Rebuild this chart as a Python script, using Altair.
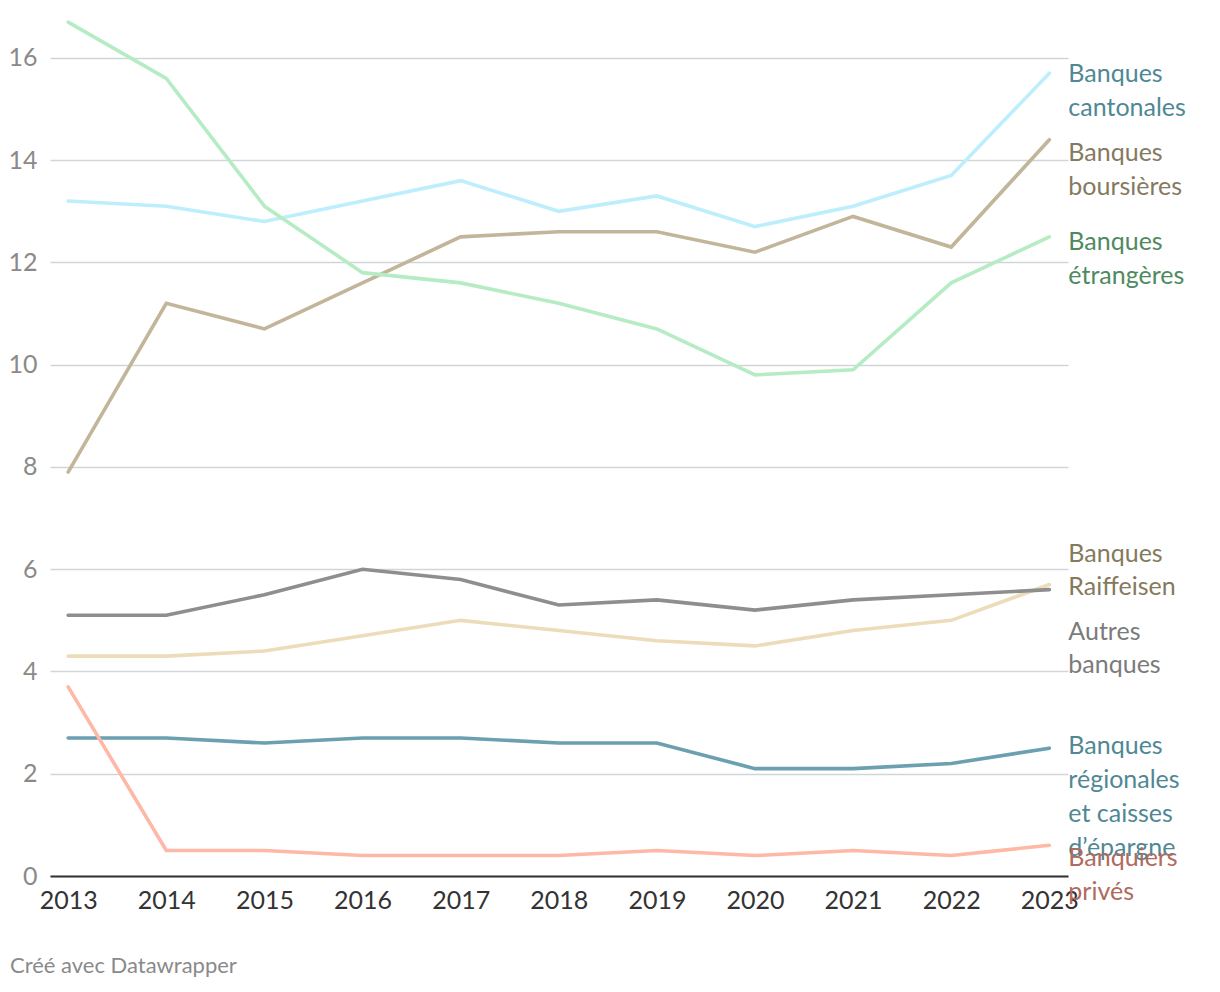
import altair as alt
import pandas as pd

years = list(range(2013, 2024))

series_names = [
    "Banques cantonales",
    "Banques boursières",
    "Banques étrangères",
    "Banques Raiffeisen",
    "Autres banques",
    "Banques régionales et caisses d’épargne",
    "Banquiers privés",
]
cantonales = [13.2, 13.1, 12.8, 13.2, 13.6, 13.0, 13.3, 12.7, 13.1, 13.7, 15.7]
boursieres = [7.9, 11.2, 10.7, 11.6, 12.5, 12.6, 12.6, 12.2, 12.9, 12.3, 14.4]
etrangeres = [16.7, 15.6, 13.1, 11.8, 11.6, 11.2, 10.7, 9.8, 9.9, 11.6, 12.5]
raiffeisen = [4.3, 4.3, 4.4, 4.7, 5.0, 4.8, 4.6, 4.5, 4.8, 5.0, 5.7]
autres = [5.1, 5.1, 5.5, 6.0, 5.8, 5.3, 5.4, 5.2, 5.4, 5.5, 5.6]
regionales = [2.7, 2.7, 2.6, 2.7, 2.7, 2.6, 2.6, 2.1, 2.1, 2.2, 2.5]
prives = [3.7, 0.5, 0.5, 0.4, 0.4, 0.4, 0.5, 0.4, 0.5, 0.4, 0.6]
series_values = [cantonales, boursieres, etrangeres, raiffeisen, autres, regionales, prives]

line_colors = ["#bdeefc", "#c3b59a", "#b6ecc4", "#ecdcba", "#8e8e8e", "#6aa0b0", "#ffb8a6"]
label_colors = ["#4f8894", "#857a5f", "#4f8a5f", "#857a5c", "#7b7b7b", "#4f8894", "#b06a5e"]
label_lines = [
    ["Banques", "cantonales"],
    ["Banques", "boursières"],
    ["Banques", "étrangères"],
    ["Banques", "Raiffeisen"],
    ["Autres", "banques"],
    ["Banques", "régionales", "et caisses", "d’épargne"],
    ["Banquiers", "privés"],
]
# vertical nudge of each label's first line relative to series end value (pixels, + = up)
label_nudge_px = [-1, -13, -5, 31, -42, 2, -13]

y_ticks = [0, 2, 4, 6, 8, 10, 12, 14, 16]

W = 1018
YMAX = 16.8
H = 859
PX = H / YMAX
LINE_STEP = 33.8

FONT = "Lato"

rows = []
for name, vals in zip(series_names, series_values):
    for yr, v in zip(years, vals):
        rows.append({"series": name, "year": yr, "value": v})
df = pd.DataFrame(rows)

lab_rows = []
for i, (name, vals) in enumerate(zip(series_names, series_values)):
    first = vals[-1] + label_nudge_px[i] / PX
    for j, t in enumerate(label_lines[i]):
        lab_rows.append({"series": name, "year": years[-1], "ly": first - j * LINE_STEP / PX,
                         "text": t})
ldf = pd.DataFrame(lab_rows)

xscale = alt.Scale(domain=[2012.815, 2023.19], nice=False, zero=False)
yscale = alt.Scale(domain=[0, YMAX], nice=False)

lines = alt.Chart(df).mark_line(strokeWidth=3.6, strokeCap="round", strokeJoin="miter").encode(
    x=alt.X("year:Q", scale=xscale,
            axis=alt.Axis(values=years, format="d", title=None, grid=False, ticks=False,
                          domainColor="#333333", domainWidth=2, labelFont=FONT,
                          labelFontSize=25, labelColor="#333333", labelPadding=12,
                          labelFlush=False)),
    y=alt.Y("value:Q", scale=yscale,
            axis=alt.Axis(values=y_ticks, title=None, domain=False, ticks=False,
                          gridColor="#d2d5d8", gridWidth=1.5, labelFont=FONT,
                          labelFontSize=25, labelColor="#8a8a8a", labelPadding=13)),
    color=alt.Color("series:N", scale=alt.Scale(domain=series_names, range=line_colors), legend=None),
    order=alt.Order("year:Q"),
)

labels = alt.Chart(ldf).mark_text(align="left", baseline="middle", font=FONT, fontSize=25, dx=19).encode(
    x=alt.X("year:Q", scale=xscale),
    y=alt.Y("ly:Q", scale=yscale),
    text="text:N",
    color=alt.Color("series:N", scale=alt.Scale(domain=series_names, range=label_colors), legend=None),
)

credit = alt.Chart(pd.DataFrame({"t": ["Créé avec Datawrapper"]})).mark_text(
    align="left", baseline="middle", font=FONT, fontSize=22, color="#8a8a8a"
).encode(x=alt.value(-40), y=alt.value(949), text="t:N")

chart = alt.layer(lines, labels, credit).resolve_scale(color="independent").properties(
    width=W, height=H,
    autosize=alt.AutoSizeParams(type="none"),
    padding={"left": 42, "top": 9, "right": 140, "bottom": 106},
).configure(background="white").configure_view(stroke=None)

chart.save("out.html", embed_options={"renderer": "svg", "actions": False})
